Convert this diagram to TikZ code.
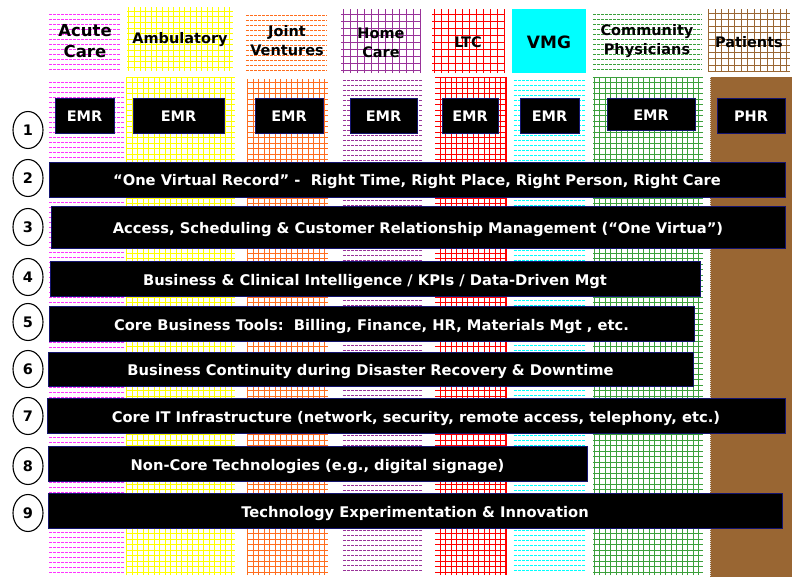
\documentclass[tikz,border=0pt]{standalone}
\usepackage{fontspec}
\setmainfont{DejaVu Sans}
\usetikzlibrary{shapes.geometric}

\definecolor{ammagenta}{RGB}{255,51,255}
\definecolor{amyellow}{RGB}{255,255,0}
\definecolor{amorange}{RGB}{255,110,30}
\definecolor{ampurple}{RGB}{153,51,153}
\definecolor{amred}{RGB}{255,0,0}
\definecolor{amcyan}{RGB}{0,255,255}
\definecolor{amgreen}{RGB}{60,160,60}
\definecolor{ambrown}{RGB}{153,102,51}
\definecolor{amnavy}{RGB}{20,20,110}

\begin{document}
\begin{tikzpicture}[x=1pt,y=-1pt,
	every node/.style={font=\bfseries\fontsize{14.5}{19}\selectfont},
	bar/.style={fill=black,draw=amnavy,line width=0.8pt,text=white,inner sep=0pt,text height=13pt,text depth=0pt},
	layer/.style={bar,font=\bfseries\fontsize{14.7}{18}\selectfont},
	num/.style={ellipse,draw,line width=1.1pt,minimum width=30pt,minimum height=37pt,inner sep=0pt},
	hdash/.style={line width=0.9pt,dash pattern=on 3pt off 1pt}]
	\useasboundingbox (0,0) rectangle (794,577);

	% header cells
	\foreach \xa/\xb/\ya/\yb/\col in {49/121/14/70/ammagenta,246/327/15/71/amorange,593/702/14/72/amgreen}
		\foreach \y in {0,5,...,56} \draw[\col,hdash] (\xa,{\ya+\y}) -- (\xb,{\ya+\y});
	\foreach \xa/\xb/\ya/\yb/\s/\col in {127/233/7/71/5.6/amyellow,341/421/9/73/7/ampurple,432/505/9/73/7/amred,708/790/9/72/6.5/ambrown}
		\draw[\col,line width=0.9pt,xstep=\s pt,ystep=\s pt] (\xa,\yb) grid (\xb,\ya);
	\fill[amcyan] (512,9) rectangle (586,73);

	% columns
	\foreach \xa/\xb/\ya/\col in {49/125/82/ammagenta,343/423/80/ampurple,514/585/80/amcyan}
		\foreach \y in {0,5,...,493} \draw[\col,hdash] (\xa,{\ya+\y}) -- (\xb,{\ya+\y});
	\foreach \xa/\xb/\ya/\col in {126/235/77/amyellow,247/328/79/amorange,435/507/77/amred,593/703/77/amgreen}
		\draw[\col,line width=0.9pt,xstep=5.5pt,ystep=5.5pt] (\xa,575) grid (\xb,\ya);
	\draw[amred,line width=2pt] (506,77) -- (506,575);
	\fill[ambrown] (710,77) rectangle (792,577);
	\draw[white!75!gray,dash pattern=on 1pt off 1pt] (710.5,77) -- (710.5,577);

	% header labels
	\node[align=center,font=\bfseries\fontsize{16.5}{21}\selectfont] (acute) at (85,41) {Acute\\Care};
	\node (amb) at (180,40) {Ambulatory};
	\node[align=center] (joint) at (287,41) {Joint\\Ventures};
	\node[align=center] (home) at (381,43) {Home\\Care};
	\node (ltc) at (468,42) {LTC};
	\node[font=\bfseries\fontsize{17}{20}\selectfont] (vmg) at (549,42) {VMG};
	\node[align=center] (comm) at (647,41) {Community\\Physicians};
	\node (pat) at (749,42) {Patients};

	% record boxes
	\foreach \n/\x/\w in {1/84.5/59,2/178.5/91,3/289/68,4/383.5/67,5/470/56,6/549.5/59}
		\node[bar,minimum width=\w pt,minimum height=35pt] (emr\n) at (\x,115.5) {EMR};
	\node[bar,minimum width=88pt,minimum height=32pt] (emr7) at (651,114) {EMR};
	\node[bar,minimum width=68pt,minimum height=35pt] (phr) at (751,115.5) {PHR};

	% numbered layers
	\foreach \n/\y in {1/130,2/178,3/227,4/277,5/322,6/369,7/416,8/466,9/513}
		\node[num] (c\n) at (28,\y) {\n};

	\node[layer,minimum width=736pt,minimum height=35pt] (b2) at (417,179.5) {“One Virtual Record” -\ \ Right Time, Right Place, Right Person, Right Care};
	\node[layer,minimum width=734pt,minimum height=42pt] (b3) at (418,227) {Access, Scheduling \& Customer Relationship Management (“One Virtua”)};
	\node[layer,minimum width=650pt,minimum height=35pt] (b4) at (375,278.5) {Business \& Clinical Intelligence / KPIs / Data-Driven Mgt};
	\node[layer,minimum width=645pt,minimum height=35pt] (b5) at (371.5,323.5) {Core Business Tools:\ \ Billing, Finance, HR, Materials Mgt , etc.};
	\node[layer,minimum width=645pt,minimum height=34pt] (b6) at (370.5,369) {Business Continuity during Disaster Recovery \& Downtime};
	\node[layer,minimum width=738pt,minimum height=35pt] (b7) at (416,415.5) {Core IT Infrastructure (network, security, remote access, telephony, etc.)};
	\node[layer,minimum width=539pt,minimum height=35pt] (b8) at (317.5,463.5) {Non-Core Technologies (e.g., digital signage)};
	\node[layer,minimum width=734pt,minimum height=35pt] (b9) at (415,510.5) {Technology Experimentation \& Innovation};
\end{tikzpicture}
\end{document}
